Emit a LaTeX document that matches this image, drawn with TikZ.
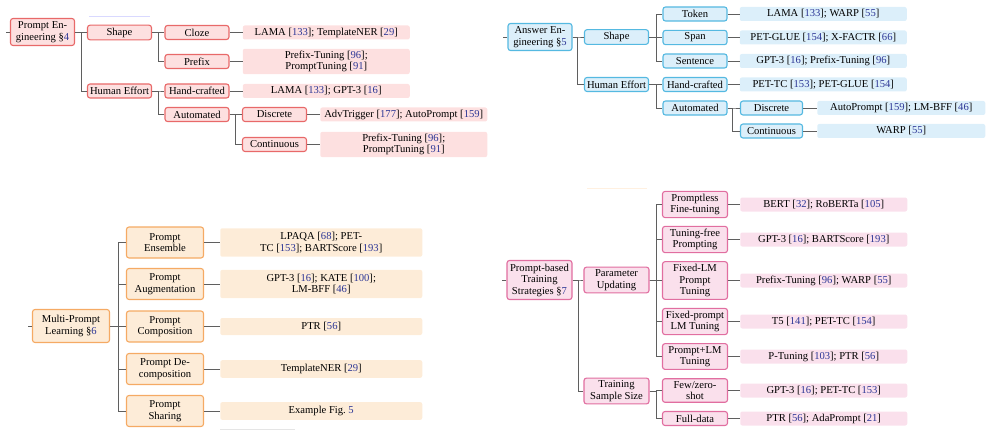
\documentclass[tikz,border=0pt]{standalone}
\usepackage{fontspec}
\setmainfont{Liberation Serif}
\usepackage{tikz}
\usetikzlibrary{positioning}
\definecolor{peline}{RGB}{232,105,105}
\definecolor{pefill}{RGB}{253,224,224}
\definecolor{aeline}{RGB}{85,185,225}
\definecolor{aefill}{RGB}{220,239,250}
\definecolor{mpline}{RGB}{245,170,100}
\definecolor{mpfill}{RGB}{253,236,216}
\definecolor{tsline}{RGB}{225,110,160}
\definecolor{tsfill}{RGB}{250,224,236}
\definecolor{linkgray}{RGB}{95,95,95}
\definecolor{refblue}{RGB}{45,55,150}
\newcommand{\rf}[1]{[\textcolor{refblue}{#1}]}
\newcommand{\secno}[1]{\S\textcolor{refblue}{#1}}
\tikzset{
	every node/.append style={
		font=\fontsize{10.6}{11.5}\selectfont,
	},
	catbox/.append style={
		draw,
		align = center,
		rounded corners=2.5pt,
		line width=1.1pt,
		inner xsep=1pt,
		inner ysep=2.5pt,
		minimum height=14pt,
	},
	leafbox/.append style={
		align = center,
		rounded corners=2pt,
		inner sep=2pt,
		minimum height=14pt,
	},
	link/.append style={
		draw=linkgray,
		line width=0.9pt,
	},
}

\begin{document}
\begin{tikzpicture}[
	x=1pt, y=-1pt,
	redbox/.style = {catbox, draw=peline, fill=pefill, minimum width=64pt},
	redleaf/.style = {leafbox, fill=pefill, minimum width=167pt},
	bluebox/.style = {catbox, draw=aeline, fill=aefill, minimum width=64pt},
	blueleaf/.style = {leafbox, fill=aefill, minimum width=167pt},
	orangebox/.style = {catbox, draw=mpline, fill=mpfill, minimum width=77pt, minimum height=31pt},
	orangeleaf/.style = {leafbox, fill=mpfill, minimum width=202pt, minimum height=17pt, inner ysep=4pt},
	pinkbox/.style = {catbox, draw=tsline, fill=tsfill, minimum width=65pt},
	pinkleaf/.style = {leafbox, fill=tsfill, minimum width=167pt}
	]
	\useasboundingbox (0,0) rectangle (996,441);
	% Prompt Engineering
	\node[redbox, minimum height=27pt](pe) at (42.5,32){Prompt En-\\gineering \secno{4}};
	\node[redbox](peshape) at (119.5,32.5){Shape};
	\node[redbox](pehuman) at (119.5,91){Human Effort};
	\node[redbox](pecloze) at (197,32.5){Cloze};
	\node[redbox](peprefix) at (197,61.5){Prefix};
	\node[redbox](pehand) at (197,91){Hand-crafted};
	\node[redbox](peauto) at (197,114.5){Automated};
	\node[redbox](pediscrete) at (274.5,114.5){Discrete};
	\node[redbox](pecont) at (274.5,144.5){Continuous};
	
	\node[redleaf, right = 13pt of pecloze](peclozeref){LAMA \rf{133}; TemplateNER \rf{29}};
	\node[redleaf, right = 13pt of peprefix](peprefixref){Prefix-Tuning \rf{96};\\PromptTuning \rf{91}};
	\node[redleaf, right = 13pt of pehand](pehandref){LAMA \rf{133}; GPT-3 \rf{16}};
	\node[redleaf, right = 13pt of pediscrete](pediscreteref){AdvTrigger \rf{177}; AutoPrompt \rf{159}};
	\node[redleaf, right = 13pt of pecont](pecontref){Prefix-Tuning \rf{96};\\PromptTuning \rf{91}};
	
	\draw[link] (pe.west) -- +(-4,0);
	\draw[link] (pe.east) -- +(6,0) |- (peshape.west);
	\draw[link] (pe.east) -- +(6,0) |- (pehuman.west);
	\draw[link] (peshape.east) -- +(6,0) |- (pecloze.west);
	\draw[link] (peshape.east) -- +(6,0) |- (peprefix.west);
	\draw[link] (pehuman.east) -- +(6,0) |- (pehand.west);
	\draw[link] (pehuman.east) -- +(6,0) |- (peauto.west);
	\draw[link] (peauto.east) -- +(6,0) |- (pediscrete.west);
	\draw[link] (peauto.east) -- +(6,0) |- (pecont.west);
	\draw[link] (pecloze) -- (peclozeref);
	\draw[link] (peprefix) -- (peprefixref);
	\draw[link] (pehand) -- (pehandref);
	\draw[link] (pediscrete) -- (pediscreteref);
	\draw[link] (pecont) -- (pecontref);
	
	% Answer Engineering
	\node[bluebox, minimum height=27pt](ae) at (540,37){Answer En-\\gineering \secno{5}};
	\node[bluebox](aeshape) at (616.5,37){Shape};
	\node[bluebox](aehuman) at (616.5,84.5){Human Effort};
	\node[bluebox](aetoken) at (695,14){Token};
	\node[bluebox](aespan) at (695,37.5){Span};
	\node[bluebox](aesentence) at (695,61){Sentence};
	\node[bluebox](aehand) at (695,84.5){Hand-crafted};
	\node[bluebox](aeauto) at (695,108){Automated};
	\node[bluebox, minimum width=62pt](aediscrete) at (771.5,108){Discrete};
	\node[bluebox, minimum width=62pt](aecont) at (771.5,131){Continuous};
	
	\node[blueleaf, right = 12pt of aetoken](aetokenref){LAMA \rf{133}; WARP \rf{55}};
	\node[blueleaf, right = 12pt of aespan](aespanref){PET-GLUE \rf{154}; X-FACTR \rf{66}};
	\node[blueleaf, right = 12pt of aesentence](aesentenceref){GPT-3 \rf{16}; Prefix-Tuning \rf{96}};
	\node[blueleaf, right = 12pt of aehand](aehandref){PET-TC \rf{153}; PET-GLUE \rf{154}};
	\node[blueleaf, right = 14pt of aediscrete, minimum width=168pt](aediscreteref){AutoPrompt \rf{159}; LM-BFF \rf{46}};
	\node[blueleaf, right = 14pt of aecont, minimum width=168pt](aecontref){WARP \rf{55}};
	
	\draw[link] (ae.west) -- +(-4,0);
	\draw[link] (ae.east) -- +(5,0) |- (aeshape.west);
	\draw[link] (ae.east) -- +(5,0) |- (aehuman.west);
	\draw[link] (aeshape.east) -- +(7,0) |- (aetoken.west);
	\draw[link] (aeshape.east) -- +(7,0) |- (aespan.west);
	\draw[link] (aeshape.east) -- +(7,0) |- (aesentence.west);
	\draw[link] (aehuman.east) -- +(7,0) |- (aehand.west);
	\draw[link] (aehuman.east) -- +(7,0) |- (aeauto.west);
	\draw[link] (aeauto.east) -- +(5,0) |- (aediscrete.west);
	\draw[link] (aeauto.east) -- +(5,0) |- (aecont.west);
	\draw[link] (aetoken) -- (aetokenref);
	\draw[link] (aespan) -- (aespanref);
	\draw[link] (aesentence) -- (aesentenceref);
	\draw[link] (aehand) -- (aehandref);
	\draw[link] (aediscrete) -- (aediscreteref);
	\draw[link] (aecont) -- (aecontref);
	
	% Multi-Prompt Learning
	\node[orangebox, minimum height=33pt](mp) at (71,326){Multi-Prompt\\Learning \secno{6}};
	\node[orangebox](mpens) at (165,242.5){Prompt\\Ensemble};
	\node[orangebox](mpaug) at (165,284){Prompt\\Augmentation};
	\node[orangebox](mpcomp) at (165,326.5){Prompt\\Composition};
	\node[orangebox](mpdecomp) at (165,369){Prompt De-\\composition};
	\node[orangebox](mpshare) at (165,411){Prompt\\Sharing};
	
	\node[orangeleaf, right = 16pt of mpens](mpensref){LPAQA \rf{68}; PET-\\TC \rf{153}; BARTScore \rf{193}};
	\node[orangeleaf, right = 16pt of mpaug](mpaugref){GPT-3 \rf{16}; KATE \rf{100};\\LM-BFF \rf{46}};
	\node[orangeleaf, right = 16pt of mpcomp](mpcompref){PTR \rf{56}};
	\node[orangeleaf, right = 16pt of mpdecomp](mpdecompref){TemplateNER \rf{29}};
	\node[orangeleaf, right = 16pt of mpshare](mpshareref){Example Fig.~\textcolor{refblue}{5}};
	
	\draw[link] (mp.west) -- +(-4,0);
	\draw[link] (mp.east) -- +(8,0) |- (mpens.west);
	\draw[link] (mp.east) -- +(8,0) |- (mpaug.west);
	\draw[link] (mp.east) -- +(8,0) |- (mpcomp.west);
	\draw[link] (mp.east) -- +(8,0) |- (mpdecomp.west);
	\draw[link] (mp.east) -- +(8,0) |- (mpshare.west);
	\draw[link] (mpens) -- (mpensref);
	\draw[link] (mpaug) -- (mpaugref);
	\draw[link] (mpcomp) -- (mpcompref);
	\draw[link] (mpdecomp) -- (mpdecompref);
	\draw[link] (mpshare) -- (mpshareref);
	
	% Prompt-based Training Strategies
	\node[pinkbox, minimum height=39pt](ts) at (539.5,280){Prompt-based\\Training\\Strategies \secno{7}};
	\node[pinkbox](tsparam) at (616.5,280){Parameter\\Updating};
	\node[pinkbox](tssample) at (616.5,391){Training\\Sample Size};
	\node[pinkbox](tsless) at (695,204.5){Promptless\\Fine-tuning};
	\node[pinkbox](tsfree) at (695,239.5){Tuning-free\\Prompting};
	\node[pinkbox](tsfixlm) at (695,280.5){Fixed-LM\\Prompt\\Tuning};
	\node[pinkbox](tsfixprompt) at (695,321.5){Fixed-prompt\\LM Tuning};
	\node[pinkbox](tsplm) at (695,356.5){Prompt+LM\\Tuning};
	\node[pinkbox](tsfew) at (695,390.5){Few/zero-\\shot};
	\node[pinkbox](tsfull) at (695,418.5){Full-data};
	
	\node[pinkleaf, right = 12pt of tsless](tslessref){BERT \rf{32}; RoBERTa \rf{105}};
	\node[pinkleaf, right = 12pt of tsfree](tsfreeref){GPT-3 \rf{16}; BARTScore \rf{193}};
	\node[pinkleaf, right = 12pt of tsfixlm](tsfixlmref){Prefix-Tuning \rf{96}; WARP \rf{55}};
	\node[pinkleaf, right = 12pt of tsfixprompt](tsfixpromptref){T5 \rf{141}; PET-TC \rf{154}};
	\node[pinkleaf, right = 12pt of tsplm](tsplmref){P-Tuning \rf{103}; PTR \rf{56}};
	\node[pinkleaf, right = 12pt of tsfew](tsfewref){GPT-3 \rf{16}; PET-TC \rf{153}};
	\node[pinkleaf, right = 12pt of tsfull](tsfullref){PTR \rf{56}; AdaPrompt \rf{21}};
	
	\draw[link] (ts.west) -- +(-4,0);
	\draw[link] (ts.east) -- +(6,0) |- (tsparam.west);
	\draw[link] (ts.east) -- +(6,0) |- (tssample.west);
	\draw[link] (tsparam.east) -- +(7,0) |- (tsless.west);
	\draw[link] (tsparam.east) -- +(7,0) |- (tsfree.west);
	\draw[link] (tsparam.east) -- +(7,0) |- (tsfixlm.west);
	\draw[link] (tsparam.east) -- +(7,0) |- (tsfixprompt.west);
	\draw[link] (tsparam.east) -- +(7,0) |- (tsplm.west);
	\draw[link] (tssample.east) -- +(7,0) |- (tsfew.west);
	\draw[link] (tssample.east) -- +(7,0) |- (tsfull.west);
	\draw[link] (tsless) -- (tslessref);
	\draw[link] (tsfree) -- (tsfreeref);
	\draw[link] (tsfixlm) -- (tsfixlmref);
	\draw[link] (tsfixprompt) -- (tsfixpromptref);
	\draw[link] (tsplm) -- (tsplmref);
	\draw[link] (tsfew) -- (tsfewref);
	\draw[link] (tsfull) -- (tsfullref);
	
	% faint rules left over from the page
	\draw[blue!15, line width=0.8pt] (89,16) -- (150,16);
	\draw[black!10, line width=0.8pt] (220,429) -- (295,429);
	\draw[orange!12, line width=0.8pt] (587,188) -- (647,188);
\end{tikzpicture}
\end{document}
